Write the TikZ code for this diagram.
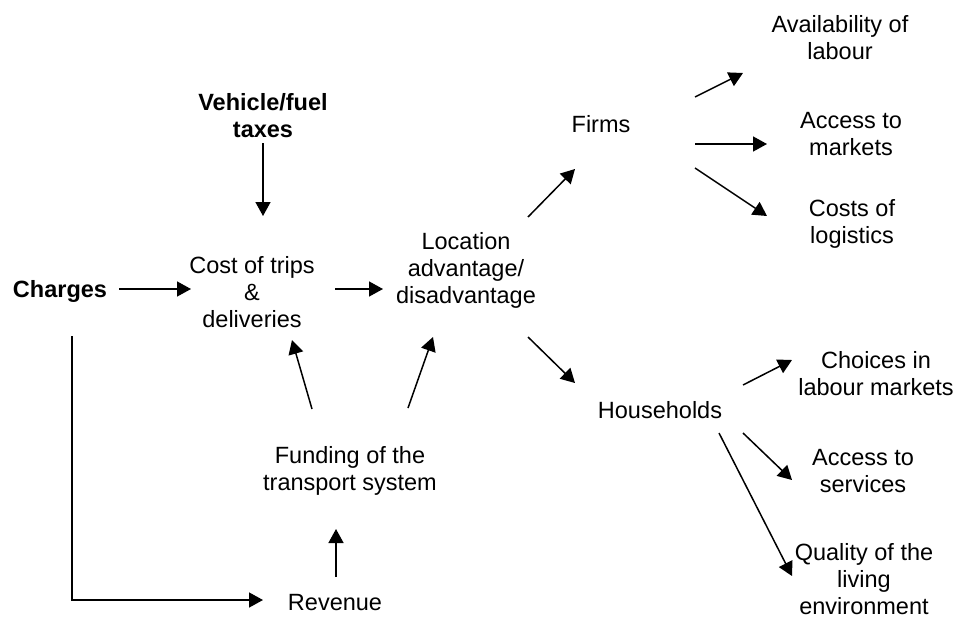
\documentclass[tikz,border=0pt]{standalone}
\usepackage{fontspec}
\setmainfont{Liberation Sans}
\usetikzlibrary{arrows.meta}
\begin{document}
\begin{tikzpicture}[x=1pt,y=-1pt,
  lbl/.style={inner sep=0pt,align=center,font=\fontsize{23.5}{27}\selectfont},
  blbl/.style={lbl,font=\fontsize{23.5}{27}\selectfont\bfseries},
  arr/.style={line width=1.5pt,-{Triangle[length=14pt,width=15pt]}},
  ln/.style={line width=1.5pt}]
\useasboundingbox (0,0) rectangle (955,616);
% nodes
\node[blbl] (veh) at (263,116) {Vehicle/fuel\\taxes};
\node[blbl] (chg) at (60,291) {Charges};
\node[lbl] (cost) at (252,292) {Cost of trips\\\&\\deliveries};
\node[lbl] (loc) at (466,270) {Location\\advantage/\\disadvantage};
\node[lbl] (firms) at (601,124) {Firms};
\node[lbl] (hh) at (660,410) {Households};
\node[lbl] (fund) at (350,471) {Funding of the\\transport system};
\node[lbl] (rev) at (335,603) {Revenue};
\node[lbl] (avail) at (840,38) {Availability of\\labour};
\node[lbl] (mkts) at (851,134) {Access to\\markets};
\node[lbl] (logi) at (852,224) {Costs of\\logistics};
\node[lbl] (choi) at (876,374) {Choices in\\labour markets};
\node[lbl] (serv) at (863,471) {Access to\\services};
\node[lbl] (qual) at (864,579) {Quality of the\\living\\environment};
% connector end points
\coordinate (vehS) at (263,143); \coordinate (vehE) at (263,216);
\coordinate (chgS) at (119,289); \coordinate (chgE) at (191,289);
\coordinate (costS) at (335,289); \coordinate (costE) at (383,289);
\coordinate (firS) at (528,217); \coordinate (firE) at (575,169);
\coordinate (hhS) at (528,337); \coordinate (hhE) at (575,383);
\coordinate (fl S) at (408,408); \coordinate (fl E) at (433,337);
\coordinate (fc S) at (312,409); \coordinate (fc E) at (292,340);
\coordinate (rf S) at (336,577); \coordinate (rf E) at (336,529);
\coordinate (cr1) at (72,336); \coordinate (cr2) at (72,600); \coordinate (crE) at (263,600);
\coordinate (f1S) at (695,97); \coordinate (f1E) at (743,73);
\coordinate (f2S) at (695,144); \coordinate (f2E) at (767,144);
\coordinate (f3S) at (695,168); \coordinate (f3E) at (767,216);
\coordinate (h1S) at (743,385); \coordinate (h1E) at (792,360);
\coordinate (h2S) at (743,433); \coordinate (h2E) at (792,480);
\coordinate (h3S) at (719,433); \coordinate (h3E) at (792,576);
% connectors
\draw[arr] (vehS) -- (vehE);
\draw[arr] (chgS) -- (chgE);
\draw[arr] (costS) -- (costE);
\draw[arr] (firS) -- (firE);
\draw[arr] (hhS) -- (hhE);
\draw[arr] (fl S) -- (fl E);
\draw[arr] (fc S) -- (fc E);
\draw[arr] (rf S) -- (rf E);
\draw[arr] (cr1) -- (cr2) -- (crE);
\draw[arr] (f1S) -- (f1E);
\draw[arr] (f2S) -- (f2E);
\draw[arr] (f3S) -- (f3E);
\draw[arr] (h1S) -- (h1E);
\draw[arr] (h2S) -- (h2E);
\draw[arr] (h3S) -- (h3E);
\end{tikzpicture}
\end{document}
